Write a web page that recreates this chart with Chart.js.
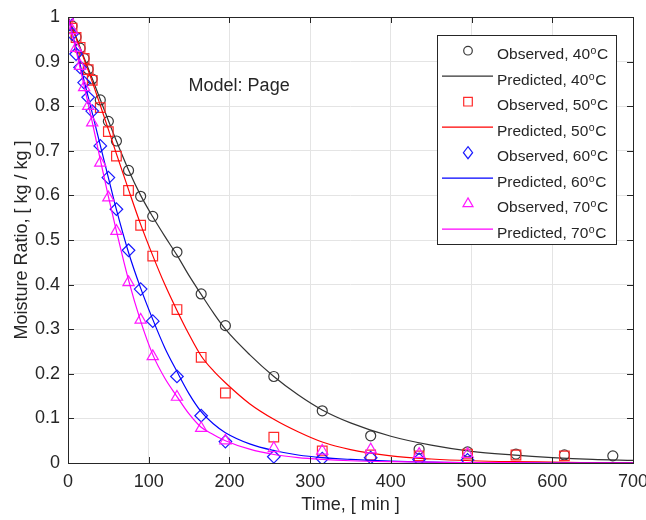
<!DOCTYPE html>
<html><head><meta charset="utf-8">
<script src="https://cdn.jsdelivr.net/npm/chart.js@4/dist/chart.umd.min.js"></script>
<style>html,body{margin:0;padding:0;background:#fff}#wrap{width:646px;height:520px;position:relative}</style>
</head><body><div id="wrap"><canvas id="c" width="646" height="520"></canvas></div>
<script>
// ---------- data ----------
const timeObs = [0,5,10,15,20,25,30,40,50,60,75,90,105,135,165,195,255,315,375,435,495,555,615,675];
const obs40 = [1.0,0.98,0.955,0.93,0.907,0.883,0.861,0.814,0.766,0.722,0.656,0.598,0.553,0.473,0.379,0.308,0.194,0.117,0.061,0.031,0.025,0.02,0.018,0.016];
const obs50 = [1.0,0.975,0.954,0.932,0.907,0.882,0.858,0.797,0.743,0.688,0.611,0.533,0.464,0.344,0.237,0.157,0.058,0.027,0.018,0.016,0.02,0.018,0.016];
const obs60 = [1.0,0.962,0.917,0.887,0.853,0.82,0.789,0.711,0.64,0.569,0.477,0.39,0.318,0.194,0.106,0.048,0.014,0.01,0.012,0.008,0.007];
const obs70 = [1.0,0.97,0.93,0.89,0.842,0.8,0.763,0.673,0.595,0.52,0.405,0.321,0.239,0.148,0.078,0.05,0.033,0.027,0.03,0.02,0.02];

const timePred = [0,10,20,30,40,50,60,75,90,105,120,135,150,165,180,195,225,255,285,315,350,400,450,500,550,600,650,700];
const pred40 = [1,0.955,0.908,0.862,0.815,0.768,0.722,0.657,0.6,0.552,0.508,0.466,0.42,0.378,0.337,0.3,0.243,0.194,0.153,0.119,0.09,0.06,0.04,0.026,0.018,0.012,0.008,0.006];
const pred50 = [1,0.953,0.905,0.855,0.802,0.748,0.693,0.613,0.535,0.465,0.4,0.342,0.288,0.24,0.207,0.18,0.133,0.098,0.07,0.047,0.03,0.016,0.009,0.005,0.003,0.002,0.001,0.001];
const pred60 = [1,0.93,0.857,0.785,0.712,0.64,0.568,0.472,0.392,0.322,0.258,0.205,0.155,0.115,0.088,0.068,0.043,0.028,0.018,0.012,0.008,0.004,0.002,0.001,0.001,0,0,0];
const pred70 = [1,0.925,0.845,0.765,0.68,0.598,0.52,0.41,0.318,0.243,0.19,0.149,0.11,0.08,0.064,0.05,0.031,0.019,0.012,0.008,0.005,0.003,0.002,0.001,0.001,0,0,0];

const temps = ['40','50','60','70'];
const xTicks = [0,100,200,300,400,500,600,700];
const yTicks = [0,0.1,0.2,0.3,0.4,0.5,0.6,0.7,0.8,0.9,1];
const yTickLabels = ['0','0.1','0.2','0.3','0.4','0.5','0.6','0.7','0.8','0.9','1'];
const xTitle = 'Time, [ min ]';
const yTitle = 'Moisture Ratio, [ kg / kg ]';
const modelText = 'Model: Page';

// ---------- styles ----------
const FONT = '"Liberation Sans", Arial, sans-serif';
const TXT = '#262626';
const colors = ['#333333','#ff0000','#0000ff','#ff00ff'];
const markerColors = ['#3a3a3a','#ff2a2a','#1a1aff','#ff1aff'];
const styles = ['circle','rect','rectRot','triangle'];
const radii = [5,6.8,6.3,6.5];
const obsSets = [obs40,obs50,obs60,obs70];
const predSets = [pred40,pred50,pred60,pred70];

const datasets = [];
temps.forEach((t,k)=>{
  datasets.push({
    label:'Observed, '+t, data: obsSets[k].map((v,i)=>({x:timeObs[i],y:v})),
    showLine:false, pointStyle:styles[k], pointRadius:radii[k], pointHoverRadius:radii[k],
    pointBorderColor:markerColors[k], pointBackgroundColor:'rgba(0,0,0,0)', pointBorderWidth:1.2,
    order: 8-2*k
  });
  datasets.push({
    label:'Predicted, '+t, data: predSets[k].map((v,i)=>({x:timePred[i],y:v})),
    showLine:true, pointRadius:0, borderColor:colors[k], borderWidth:1.2,
    cubicInterpolationMode:'monotone', fill:false, order: 7-2*k
  });
});

function drawMarker(ctx, style, x, y, color){
  ctx.save(); ctx.strokeStyle=color; ctx.lineWidth=1.2; ctx.beginPath();
  if(style==='circle'){ ctx.arc(x,y,4.3,0,Math.PI*2); }
  else if(style==='rect'){ ctx.rect(x-4.3,y-4.3,8.6,8.6); }
  else if(style==='rectRot'){ ctx.moveTo(x,y-6); ctx.lineTo(x+4.6,y); ctx.lineTo(x,y+6); ctx.lineTo(x-4.6,y); ctx.closePath(); }
  else { const r=5.8; ctx.moveTo(x,y-r); ctx.lineTo(x+r*0.866,y+r/2); ctx.lineTo(x-r*0.866,y+r/2); ctx.closePath(); }
  ctx.stroke(); ctx.restore();
}

const framePlugin = {
  id:'frame',
  afterDraw(chart){
    const ctx = chart.ctx, a = chart.chartArea;
    const xs = chart.scales.x, ys = chart.scales.y;
    ctx.save();
    // frame
    ctx.strokeStyle = '#262626'; ctx.lineWidth = 1;
    ctx.strokeRect(Math.round(a.left)+0.5, Math.round(a.top)+0.5, Math.round(a.right-a.left), Math.round(a.bottom-a.top));
    // inward ticks
    ctx.beginPath();
    const TL = 6;
    xTicks.forEach(v=>{ const px=Math.round(xs.getPixelForValue(v))+0.5;
      ctx.moveTo(px,a.bottom); ctx.lineTo(px,a.bottom-TL); ctx.moveTo(px,a.top); ctx.lineTo(px,a.top+TL); });
    yTicks.forEach(v=>{ const py=Math.round(ys.getPixelForValue(v))+0.5;
      ctx.moveTo(a.left,py); ctx.lineTo(a.left+TL,py); ctx.moveTo(a.right,py); ctx.lineTo(a.right-TL,py); });
    ctx.stroke();
    // annotation
    ctx.fillStyle = TXT; ctx.font = '18px '+FONT; ctx.textAlign='center'; ctx.textBaseline='middle';
    ctx.fillText(modelText, xs.getPixelForValue(212), ys.getPixelForValue(0.845));
    // legend
    const x0 = Math.round(a.right) - 196, y0 = Math.round(a.top) + 18, w = 179, h = 209;
    ctx.fillStyle = '#ffffff'; ctx.fillRect(x0,y0,w,h);
    ctx.strokeStyle = '#262626'; ctx.lineWidth=1; ctx.strokeRect(x0+0.5,y0+0.5,w,h);
    ctx.textAlign='left'; ctx.textBaseline='alphabetic';
    for(let i=0;i<8;i++){
      const k = Math.floor(i/2), isObs = i%2===0;
      const base = y0 + 24.3 + i*25.5, sy = base - 8.6;
      if(isObs){ drawMarker(ctx, styles[k], x0+31, sy, markerColors[k]); }
      else { ctx.strokeStyle=colors[k]; ctx.lineWidth=1.2; ctx.beginPath(); ctx.moveTo(x0+5,sy); ctx.lineTo(x0+56,sy); ctx.stroke(); }
      const label = (isObs?'Observed, ':'Predicted, ')+temps[k];
      let tx = x0 + 60;
      ctx.fillStyle = TXT; ctx.font = '15.5px '+FONT; ctx.fillText(label, tx, base); tx += ctx.measureText(label).width + 0.5;
      ctx.font = '10.5px '+FONT; ctx.fillText('o', tx, base-5); tx += ctx.measureText('o').width + 0.5;
      ctx.font = '15.5px '+FONT; ctx.fillText('C', tx, base);
    }
    ctx.restore();
  }
};

new Chart(document.getElementById('c'), {
  type:'scatter',
  data:{datasets},
  options:{
    responsive:false, animation:false, devicePixelRatio:1,
    layout:{padding:{top:17,right:13,left:0,bottom:0}},
    plugins:{legend:{display:false},tooltip:{enabled:false}},
    elements:{line:{tension:0}},
    scales:{
      x:{type:'linear',min:0,max:700,
        afterBuildTicks:s=>{ s.ticks = xTicks.map(v=>({value:v})); },
        afterFit:s=>{ s.height = 57; s.paddingLeft=0; s.paddingRight=0; },
        grid:{color:'#e4e4e4',lineWidth:1,drawTicks:false},
        border:{display:false},
        ticks:{font:{family:FONT,size:18},color:TXT,padding:8,maxRotation:0,callback:v=>String(v)},
        title:{display:true,text:xTitle,font:{family:FONT,size:18},color:TXT,padding:{top:0,bottom:4}}
      },
      y:{type:'linear',min:0,max:1,
        afterBuildTicks:s=>{ s.ticks = yTicks.map(v=>({value:v})); },
        afterFit:s=>{ s.width = 68; s.paddingTop=0; s.paddingBottom=0; },
        grid:{color:'#e4e4e4',lineWidth:1,drawTicks:false},
        border:{display:false},
        ticks:{font:{family:FONT,size:18},color:TXT,padding:8,callback:(v,i)=>yTickLabels[i]},
        title:{display:true,text:yTitle,font:{family:FONT,size:18},color:TXT,padding:{top:11,bottom:0}}
      }
    }
  },
  plugins:[framePlugin]
});
</script></body></html>
